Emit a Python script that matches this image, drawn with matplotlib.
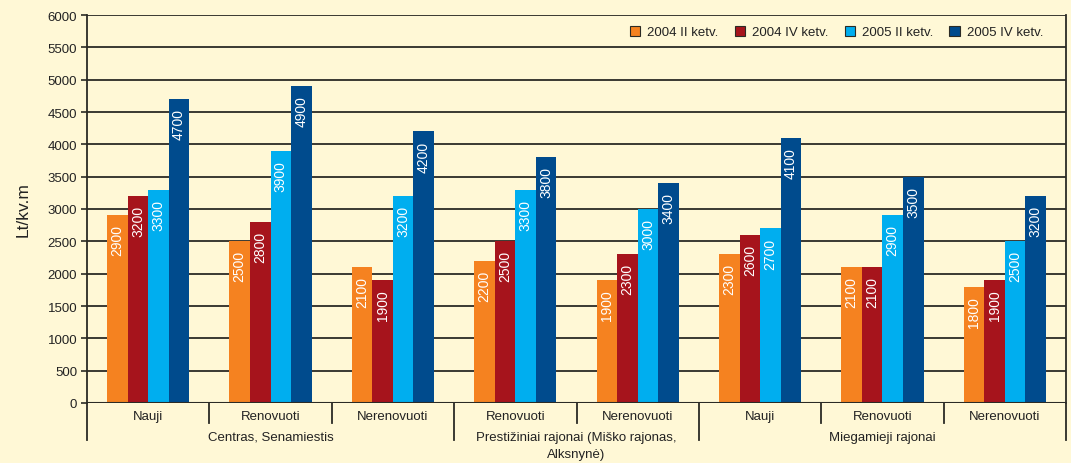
import matplotlib
matplotlib.use("Agg")
import matplotlib.pyplot as plt
from matplotlib.patches import Patch
import numpy as np

plt.rcParams['font.family'] = ['Liberation Sans Narrow', 'Liberation Sans', 'DejaVu Sans']

series = ["2004 II ketv.", "2004 IV ketv.", "2005 II ketv.", "2005 IV ketv."]
colors = ["#F58220", "#A6141C", "#00AEEF", "#004B8D"]

categories = ["Nauji", "Renovuoti", "Nerenovuoti",
              "Renovuoti", "Nerenovuoti",
              "Nauji", "Renovuoti", "Nerenovuoti"]
areas = ["Centras, Senamiestis",
         "Prestižiniai rajonai (Miško rajonas,\nAlksnynė)",
         "Miegamieji rajonai"]
area_sizes = [3, 2, 3]

v2004_ii = [2900, 2500, 2100, 2200, 1900, 2300, 2100, 1800]
v2004_iv = [3200, 2800, 1900, 2500, 2300, 2600, 2100, 1900]
v2005_ii = [3300, 3900, 3200, 3300, 3000, 2700, 2900, 2500]
v2005_iv = [4700, 4900, 4200, 3800, 3400, 4100, 3500, 3200]
values = [v2004_ii, v2004_iv, v2005_ii, v2005_iv]

bg = "#FFF8D6"
ink = "#2b2b25"
txt = "#222222"

fig = plt.figure(figsize=(10.71, 4.64), dpi=100, facecolor=bg)
ax = fig.add_axes([87 / 1071, 1 - 404 / 464, (1066 - 87) / 1071, 388 / 464])
ax.set_facecolor(bg)

x = np.arange(len(categories))
w = 0.168
for i, (vals, c) in enumerate(zip(values, colors)):
    xs = x + (i - 1.5) * w
    ax.bar(xs, vals, width=w, color=c, zorder=3, linewidth=0)
    for xi, v in zip(xs, vals):
        ax.annotate(str(v), (xi, v), xytext=(0, -6.5), textcoords="offset points",
                    rotation=90, ha="center", va="top", color="white",
                    fontsize=10, zorder=4)

ax.set_xlim(-0.5, len(categories) - 0.5)
ax.set_ylim(0, 6000)
ax.set_yticks(np.arange(0, 6001, 500))
ax.yaxis.grid(True, color=ink, linewidth=1.3, zorder=1)
ax.tick_params(axis="y", length=4, width=1.2, color=ink, labelsize=9.5,
               labelcolor=txt, pad=3)
ax.set_xticks([])
for s in ["top", "right", "left", "bottom"]:
    ax.spines[s].set_visible(False)
ax.axhline(0, color=ink, linewidth=1.5, zorder=5)

ax.set_ylabel("Lt/kv.m", fontsize=12.5, color=txt, labelpad=12)

# bracketed category axis below the plot
tr = ax.get_xaxis_transform()
short_y = -20 / 388
long_y = -37 / 388
boundaries = np.cumsum([0] + area_sizes)
for k in range(len(categories) + 1):
    xb = k - 0.5
    ybot = long_y if k in boundaries else short_y
    ax.plot([xb, xb], [0, ybot], transform=tr, color=ink, linewidth=1.3,
            clip_on=False, zorder=5)
# left and right frame lines
for xb in (-0.5, len(categories) - 0.5):
    ax.plot([xb, xb], [0, 1], transform=tr, color=ink, linewidth=1.3,
            clip_on=False, zorder=5)

for xi, lab in zip(x, categories):
    ax.text(xi, -13 / 388, lab, transform=tr, ha="center", va="center",
            fontsize=9.5, color=txt)

for a, (start, size) in enumerate(zip(boundaries[:-1], area_sizes)):
    center = start + size / 2 - 0.5
    ax.text(center, -28 / 388, areas[a], transform=tr, ha="center", va="top",
            fontsize=9.5, color=txt, linespacing=1.6)

handles = [Patch(facecolor=c, edgecolor=ink, linewidth=0.8) for c in colors]
leg = ax.legend(handles, series, loc="center right", ncol=4, frameon=False,
                fontsize=9.5, handlelength=0.8, handleheight=0.8,
                handletextpad=0.5, columnspacing=1.25, borderpad=0,
                bbox_to_anchor=((1043 - 87) / 979, 371 / 388), borderaxespad=0)
for t in leg.get_texts():
    t.set_color(txt)

fig.savefig("out.png", dpi=100, facecolor=bg)
